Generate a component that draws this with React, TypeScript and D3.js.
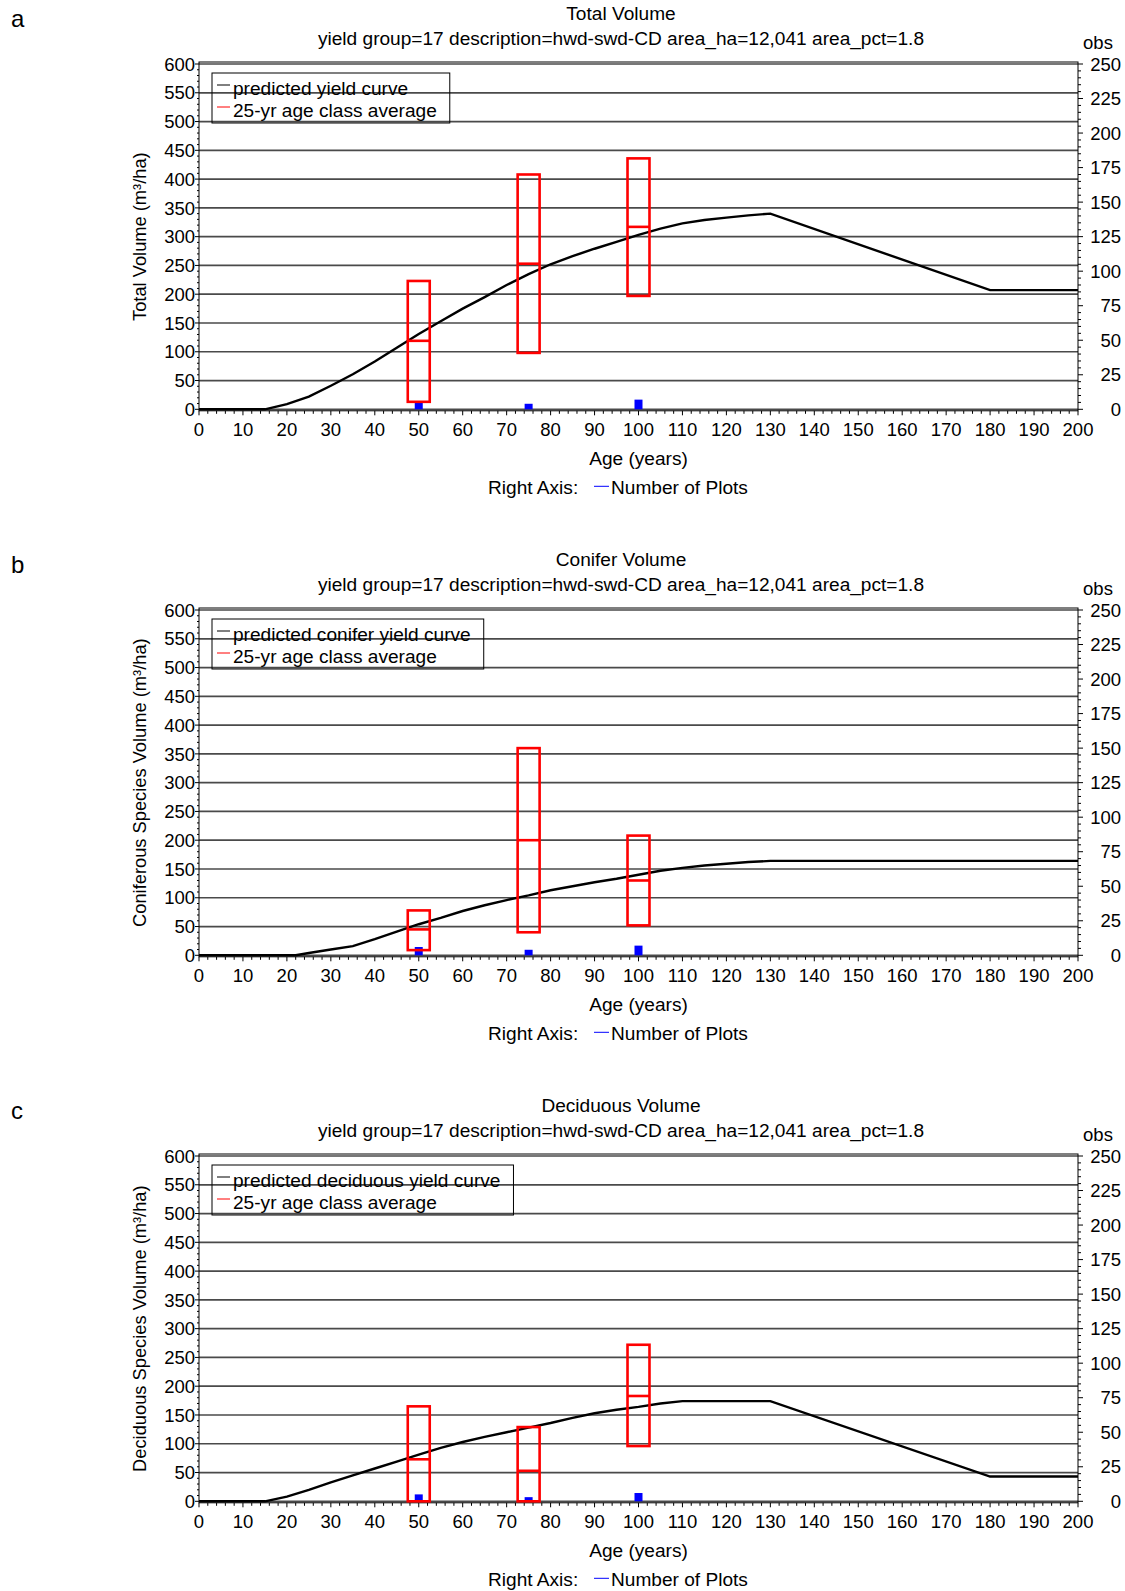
import React from "react";
import * as d3 from "d3";

// ---------- data ----------
const panelLetters = ["a", "b", "c"];
const panelTitles = ["Total Volume", "Conifer Volume", "Deciduous Volume"];
const subtitle = "yield group=17 description=hwd-swd-CD area_ha=12,041 area_pct=1.8";
const yTitles = [
  "Total Volume (m³/ha)",
  "Coniferous Species Volume (m³/ha)",
  "Deciduous Species Volume (m³/ha)",
];
const curveLabels = [
  "predicted yield curve",
  "predicted conifer yield curve",
  "predicted deciduous yield curve",
];
const avgLabel = "25-yr age class average";

const xTicks = d3.range(0, 201, 10);
const leftTicks = d3.range(0, 601, 50);
const rightTicks = d3.range(0, 251, 25);

// yield curves
const totalCurveAge = [0, 15, 20, 25, 30, 35, 40, 45, 50, 55, 60, 65, 70, 75, 80, 85, 90, 95, 100, 105, 110, 115, 120, 125, 130, 180, 200];
const totalCurveVol = [0, 0, 9, 22, 41, 61, 83, 107, 131, 153, 175, 195, 216, 235, 252, 266, 279, 291, 303, 314, 323, 329, 333, 337, 340, 207, 207];

const coniferCurveAge = [0, 22, 25, 30, 35, 40, 45, 50, 55, 60, 65, 70, 75, 80, 85, 90, 95, 100, 105, 110, 115, 120, 125, 130, 200];
const coniferCurveVol = [0, 0, 4, 10, 16, 28, 41, 54, 65, 77, 87, 96, 104, 113, 120, 127, 133, 140, 147, 152, 156, 159, 162, 164, 164];

const decidCurveAge = [0, 15, 20, 25, 30, 35, 40, 45, 50, 55, 60, 65, 70, 75, 80, 85, 90, 95, 100, 105, 110, 130, 180, 200];
const decidCurveVol = [0, 0, 8, 20, 33, 45, 57, 69, 81, 93, 103, 112, 120, 128, 136, 145, 153, 159, 164, 170, 174, 174, 43, 43];

// 25-yr age class averages
const classAges = [50, 75, 100];
const totalAvgLow = [13, 98, 197];
const totalAvgMean = [119, 253, 317];
const totalAvgHigh = [223, 408, 436];

const coniferAvgLow = [9, 40, 52];
const coniferAvgMean = [45, 200, 130];
const coniferAvgHigh = [78, 360, 208];

const decidAvgLow = [0, 0, 96];
const decidAvgMean = [73, 53, 183];
const decidAvgHigh = [165, 129, 272];

// number of plots (right axis)
const totalPlots = [6, 4, 7];
const coniferPlots = [6, 4, 7];
const decidPlots = [5, 3, 6];

const panels = [
  { age: totalCurveAge, vol: totalCurveVol, low: totalAvgLow, mean: totalAvgMean, high: totalAvgHigh, plots: totalPlots },
  { age: coniferCurveAge, vol: coniferCurveVol, low: coniferAvgLow, mean: coniferAvgMean, high: coniferAvgHigh, plots: coniferPlots },
  { age: decidCurveAge, vol: decidCurveVol, low: decidAvgLow, mean: decidAvgMean, high: decidAvgHigh, plots: decidPlots },
];

// ---------- layout ----------
const W = 1125;
const H = 1591;
const FONT = "'Liberation Sans', Arial, sans-serif";
const FS = 18.5;
const FT = 19.1;
const X0 = 199;
const X1 = 1078;
const PANEL_STEP = 546;
const TOP = 64;
const BOTTOM = 409.3;

function measure(text: string, size = FT): number {
  if (typeof document === "undefined") return text.length * size * 0.5;
  const c = document.createElement("canvas");
  const ctx = c.getContext("2d");
  if (!ctx) return text.length * size * 0.5;
  ctx.font = `${size}px 'Liberation Sans', Arial, sans-serif`;
  return ctx.measureText(text).width;
}

function Panel({ idx }: { idx: number }) {
  const off = idx * PANEL_STEP;
  const p = panels[idx];
  const x = d3.scaleLinear().domain([0, 200]).range([X0, X1]);
  const y = d3.scaleLinear().domain([0, 600]).range([BOTTOM + off, TOP + off]);
  const yr = d3.scaleLinear().domain([0, 250]).range([BOTTOM + off, TOP + off]);
  const pts: [number, number][] = p.age.map((a, i) => [a, p.vol[i]]);
  const line = d3
    .line<[number, number]>()
    .x((d) => x(d[0]))
    .y((d) => y(d[1]));

  const minorX = d3.range(0, 201, 2);
  const minorL = d3.range(0, 601, 10);
  const minorR = d3.range(0, 251, 5);
  const legW = 21 + Math.max(measure(curveLabels[idx]), measure(avgLabel)) + 13;
  const bot = BOTTOM + off;

  return (
    <g>
      <text x={11} y={27 + off} fontSize={24} fontFamily={FONT}>
        {panelLetters[idx]}
      </text>
      <text x={621} y={19.5 + off} fontSize={FT} fontFamily={FONT} textAnchor="middle">
        {panelTitles[idx]}
      </text>
      <text x={621} y={45 + off} fontSize={FT} fontFamily={FONT} textAnchor="middle">
        {subtitle}
      </text>
      <text x={1098} y={49 + off} fontSize={FS} fontFamily={FONT} textAnchor="middle">
        obs
      </text>

      {/* gridlines */}
      {leftTicks.map((t) => (
        <line key={"g" + t} x1={X0} x2={X1} y1={y(t)} y2={y(t)} stroke="#4a4a4a" strokeWidth={1.7} />
      ))}
      {/* frame */}
      <rect x={X0} y={TOP + off - 2} width={X1 - X0} height={BOTTOM - TOP + 3.5} fill="none" stroke="#000" strokeWidth={1} />

      {/* x axis ticks */}
      {minorX.map((t) => (
        <line key={"mx" + t} x1={x(t)} x2={x(t)} y1={bot + 1.5} y2={bot + (t % 10 === 0 ? 6 : 4.5)} stroke="#000" strokeWidth={1} />
      ))}
      {xTicks.map((t) => (
        <text key={"xt" + t} x={x(t)} y={bot + 27} fontSize={FS} fontFamily={FONT} textAnchor="middle">
          {t}
        </text>
      ))}
      {/* left axis ticks */}
      {minorL.map((t) => (
        <line key={"ml" + t} x1={X0} x2={X0 - (t % 50 === 0 ? 4 : 2)} y1={y(t)} y2={y(t)} stroke="#000" strokeWidth={1} />
      ))}
      {leftTicks.map((t) => (
        <text key={"lt" + t} x={195} y={y(t)} dy="0.36em" fontSize={FS} fontFamily={FONT} textAnchor="end">
          {t}
        </text>
      ))}
      {/* right axis ticks */}
      {minorR.map((t) => (
        <line key={"mr" + t} x1={X1} x2={X1 + (t % 25 === 0 ? 5 : 3)} y1={yr(t)} y2={yr(t)} stroke="#000" strokeWidth={1} />
      ))}
      {rightTicks.map((t) => (
        <text key={"rt" + t} x={1121} y={yr(t)} dy="0.36em" fontSize={FS} fontFamily={FONT} textAnchor="end">
          {t}
        </text>
      ))}

      {/* y title */}
      <text
        transform={`translate(139, ${(TOP + BOTTOM) / 2 + off}) rotate(-90)`}
        dy="0.36em"
        fontSize={18.3}
        fontFamily={FONT}
        textAnchor="middle"
      >
        {yTitles[idx]}
      </text>

      {/* number of plots bars */}
      {classAges.map((a, i) => (
        <rect key={"bp" + a} x={x(a) - 4} y={yr(p.plots[i])} width={8} height={bot - yr(p.plots[i])} fill="#0000ff" />
      ))}

      {/* curve */}
      <path d={line(pts) || ""} fill="none" stroke="#000" strokeWidth={2.4} />

      {/* age class boxes */}
      {classAges.map((a, i) => (
        <g key={"bx" + a}>
          <rect
            x={x(a - 2.5)}
            y={y(p.high[i])}
            width={x(a + 2.5) - x(a - 2.5)}
            height={y(p.low[i]) - y(p.high[i])}
            fill="none"
            stroke="#ff0000"
            strokeWidth={2.6}
          />
          <line x1={x(a - 2.5)} x2={x(a + 2.5)} y1={y(p.mean[i])} y2={y(p.mean[i])} stroke="#ff0000" strokeWidth={2.6} />
        </g>
      ))}

      {/* legend */}
      <rect x={212} y={73 + off} width={legW} height={50} fill="none" stroke="#000" strokeWidth={1} />
      <line x1={217} x2={230} y1={85 + off} y2={85 + off} stroke="#000" strokeWidth={1} />
      <text x={233} y={95 + off} fontSize={FT} fontFamily={FONT}>
        {curveLabels[idx]}
      </text>
      <line x1={217} x2={230} y1={107 + off} y2={107 + off} stroke="#ff0000" strokeWidth={1} />
      <text x={233} y={117 + off} fontSize={FT} fontFamily={FONT}>
        {avgLabel}
      </text>

      {/* x title and bottom legend */}
      <text x={(X0 + X1) / 2} y={bot + 56} fontSize={FT} fontFamily={FONT} textAnchor="middle">
        Age (years)
      </text>
      <text x={488} y={bot + 85} fontSize={FT} fontFamily={FONT}>
        Right Axis:
      </text>
      <line x1={594} x2={609} y1={bot + 77} y2={bot + 77} stroke="#0000ff" strokeWidth={1} />
      <text x={611} y={bot + 85} fontSize={FT} fontFamily={FONT}>
        Number of Plots
      </text>
    </g>
  );
}

export default function App() {
  return (
    <svg
      width={W}
      height={H}
      viewBox={`0 0 ${W} ${H}`}
      style={{ position: "absolute", left: 0, top: 0, background: "#fff" }}
    >
      <rect x={0} y={0} width={W} height={H} fill="#fff" />
      {panels.map((_, i) => (
        <Panel key={i} idx={i} />
      ))}
    </svg>
  );
}
